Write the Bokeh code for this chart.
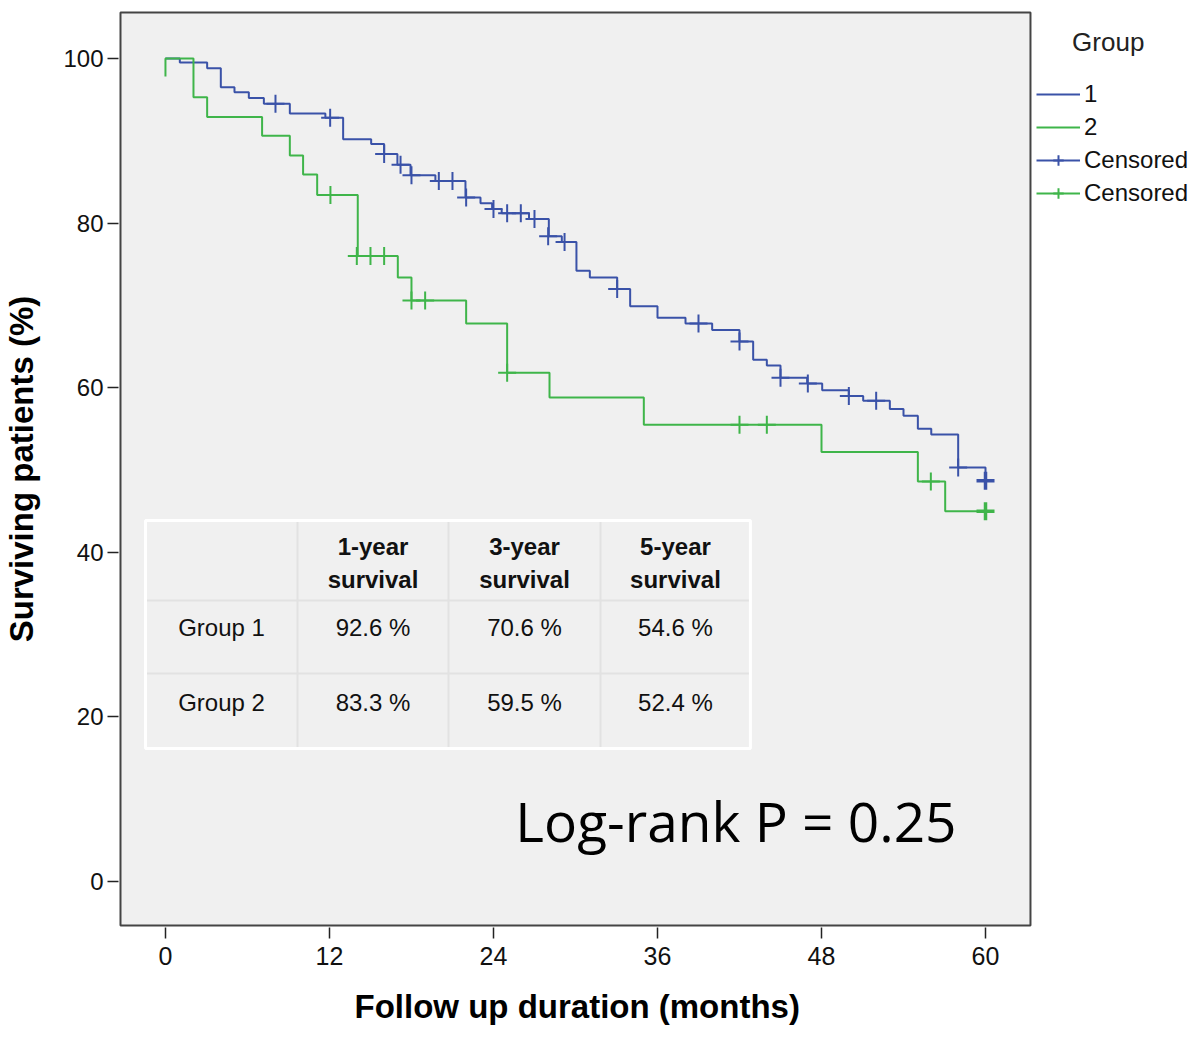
from bokeh.plotting import figure
from bokeh.models import (Range1d, FixedTicker, Legend, LegendItem, Label,
                          ColumnDataSource, BoxAnnotation, Title)
from bokeh.core.properties import value
from bokeh.embed import file_html
from bokeh.resources import INLINE

# ---------------- data ----------------
g1_time = [0, 1.05, 3.05, 4.05, 5.05, 6.1, 7.2, 9.1, 11.7, 13.0, 15.05, 16.0,
           16.97, 17.93, 19.75, 21.95, 23.05, 23.9, 24.6, 26.6, 28.05, 29.0,
           30.07, 31.05, 33.05, 34.0, 36.0, 38.05, 40.0, 42.0, 43.0, 44.0,
           45.0, 46.95, 48.05, 50.0, 51.05, 53.0, 54.0, 55.05, 56.03, 58.0, 60.0]
g1_surv = [100, 99.5, 98.8, 96.5, 95.9, 95.2, 94.5, 93.3, 92.8, 90.2, 89.6, 88.4,
           87.1, 85.8, 85.1, 83.1, 82.4, 81.7, 81.2, 80.5, 78.4, 77.7,
           74.2, 73.4, 72.0, 69.9, 68.5, 67.8, 67.0, 65.6, 63.4, 62.7,
           61.2, 60.5, 59.7, 59.0, 58.4, 57.4, 56.6, 55.0, 54.3, 50.3, 48.7]
g1_cens_time = [8.05, 12.05, 16.0, 17.2, 18.0, 20.0, 21.0, 22.0, 24.0, 25.0, 26.0,
                27.0, 28.0, 29.2, 33.05, 39.0, 42.0, 45.0, 47.0, 50.0, 52.0, 58.0, 60.0]
g1_cens_surv = [94.5, 92.8, 88.4, 87.1, 85.8, 85.1, 85.1, 83.1, 81.7, 81.2, 81.2,
                80.5, 78.4, 77.7, 72.0, 67.8, 65.6, 61.2, 60.5, 59.0, 58.4, 50.3, 48.7]

g2_time = [0, 0, 2.05, 3.05, 7.07, 9.1, 10.07, 11.1, 14.07, 17.0, 18.0, 22.0,
           25.0, 28.1, 35.0, 48.0, 55.05, 57.05, 60.0]
g2_surv = [97.8, 100, 95.3, 92.9, 90.6, 88.2, 85.9, 83.4, 76.0, 73.4, 70.6, 67.8,
           61.8, 58.8, 55.5, 52.2, 48.6, 45.0, 45.0]
g2_cens_time = [12.07, 14.0, 15.0, 16.0, 18.0, 19.0, 25.0, 42.0, 44.0, 56.0, 60.0]
g2_cens_surv = [83.4, 76.0, 76.0, 76.0, 70.6, 70.6, 61.8, 55.5, 55.5, 48.6, 45.0]

legend_title = "Group"
legend_labels = ["1", "2", "Censored", "Censored"]

table_groups = ["Group 1", "Group 2"]
table_headers = ["1-year\nsurvival", "3-year\nsurvival", "5-year\nsurvival"]
surv_1yr = ["92.6 %", "83.3 %"]
surv_3yr = ["70.6 %", "59.5 %"]
surv_5yr = ["54.6 %", "52.4 %"]

x_ticks = [0, 12, 24, 36, 48, 60]
y_ticks = [0, 20, 40, 60, 80, 100]
x_title = "Follow up duration (months)"
y_title = "Surviving patients (%)"
logrank_text = "Log-rank P = 0.25"

# ---------------- styles / layout ----------------
BLUE = "#3a52a8"
GREEN = "#3fb54a"
ARIAL = "'Liberation Sans', Arial, sans-serif"

# plot box (the grey chart area) in data units
BOX_X = (-3.29, 63.29)
BOX_Y = (-5.35, 105.59)

p = figure(width=1200, height=1044, output_backend="svg", toolbar_location=None,
           x_range=Range1d(-3.436, 75.73), y_range=Range1d(-5.59, 105.83),
           min_border_left=118, min_border_right=0, min_border_top=10,
           min_border_bottom=117,
           background_fill_color="white", border_fill_color="white")
p.outline_line_color = None
p.grid.visible = False

p.add_layout(BoxAnnotation(left=BOX_X[0], right=BOX_X[1], bottom=BOX_Y[0],
                           top=BOX_Y[1], fill_color="#f0f0f0", fill_alpha=1.0,
                           line_color="#444444", line_width=2, line_alpha=1.0,
                           level="underlay"))

for ax in (p.xaxis[0], p.yaxis[0]):
    ax.axis_line_color = None
    ax.minor_tick_line_color = None
    ax.major_tick_in = 0
    ax.major_tick_line_color = "#222222"
    ax.major_tick_line_width = 1.5
    ax.major_label_text_color = "#111111"
    ax.major_label_text_font = ARIAL
    ax.axis_label_text_color = "#000000"
    ax.axis_label_text_font = ARIAL
    ax.axis_label_text_font_style = "bold"
    ax.axis_label_text_font_size = "33px"

p.xaxis.ticker = FixedTicker(ticks=x_ticks)
p.xaxis.major_tick_out = 11
p.xaxis.major_label_text_font_size = "25px"
p.xaxis.major_label_standoff = 8

p.yaxis.ticker = FixedTicker(ticks=y_ticks)
p.yaxis.major_tick_out = 11
p.yaxis.major_label_text_font_size = "24px"
p.yaxis.major_label_standoff = 4
p.yaxis.axis_label = y_title
p.yaxis.axis_label_standoff = 20

# x-axis title centred under the grey chart box
p.add_layout(Title(text=x_title, align="left", offset=236, standoff=36,
                   text_font=ARIAL, text_font_size="33px",
                   text_font_style="bold", text_color="#000000"), "below")

# ---------------- survival table ----------------
tab_x = [-1.46, 9.66, 20.71, 31.83, 42.80]
tab_y = [43.86, 34.14, 25.27, 16.16]
p.segment(x0=tab_x[1:4], x1=tab_x[1:4], y0=[tab_y[0]] * 3, y1=[tab_y[-1]] * 3,
          line_color="#e2e2e2", line_width=2)
p.segment(x0=[tab_x[0]] * 2, x1=[tab_x[-1]] * 2, y0=tab_y[1:3], y1=tab_y[1:3],
          line_color="#e2e2e2", line_width=2)
p.quad(left=[tab_x[0]], right=[tab_x[-1]], top=[tab_y[0]], bottom=[tab_y[-1]],
       fill_color=None, line_color="white", line_width=3)

col_c = [(tab_x[i] + tab_x[i + 1]) / 2 for i in range(4)]
head_y = 38.7
row_y = [30.86, 21.75]
p.text(x=col_c[1:], y=[head_y] * 3, text=table_headers,
       text_font=value("Liberation Sans"), text_font_size="24px",
       text_font_style="bold", text_align="center", text_baseline="middle",
       text_color="#111111", text_line_height=1.2)
cells_txt, cells_x, cells_y = [], [], []
for i, g in enumerate(table_groups):
    for j, v in enumerate([g, surv_1yr[i], surv_3yr[i], surv_5yr[i]]):
        cells_txt.append(v)
        cells_x.append(col_c[j])
        cells_y.append(row_y[i])
p.text(x=cells_x, y=cells_y, text=cells_txt,
       text_font=value("Liberation Sans"), text_font_size="24px",
       text_align="center", text_baseline="middle", text_color="#111111")

# ---------------- curves ----------------
r1 = p.step(x=g1_time, y=g1_surv, mode="after", line_color=BLUE, line_width=2)
r2 = p.step(x=g2_time, y=g2_surv, mode="after", line_color=GREEN, line_width=2)

c1_src = ColumnDataSource(dict(t=g1_cens_time, s=g1_cens_surv,
                               w=[3.5 if t >= 60 else 2 for t in g1_cens_time]))
c2_src = ColumnDataSource(dict(t=g2_cens_time, s=g2_cens_surv,
                               w=[3.5 if t >= 60 else 2 for t in g2_cens_time]))
c1 = p.scatter("t", "s", source=c1_src, marker="cross", size=18,
               line_color=BLUE, line_width="w")
c2 = p.scatter("t", "s", source=c2_src, marker="cross", size=18,
               line_color=GREEN, line_width="w")

# ---------------- legend ----------------
legend = Legend(items=[LegendItem(label=legend_labels[0], renderers=[r1]),
                       LegendItem(label=legend_labels[1], renderers=[r2]),
                       LegendItem(label=legend_labels[2], renderers=[r1, c1]),
                       LegendItem(label=legend_labels[3], renderers=[r2, c2])],
                location=(918, 720), padding=0, margin=0, spacing=5,
                title="\u00a0" * 5 + legend_title, title_text_font=ARIAL,
                title_text_font_size="26px", title_text_font_style="normal",
                title_text_color="#222222", title_standoff=22,
                glyph_width=44, glyph_height=26, label_height=26,
                label_standoff=4, label_text_font=ARIAL,
                label_text_font_size="24px", label_text_color="#111111",
                border_line_color=None, background_fill_alpha=0)
p.add_layout(legend)

p.add_layout(Label(x=25.6, y=7.4, text=logrank_text, text_font="'Open Sans'",
                   text_font_size="55px", text_baseline="alphabetic",
                   text_color="#000000"))

open("out.html", "w").write(file_html(p, INLINE))
